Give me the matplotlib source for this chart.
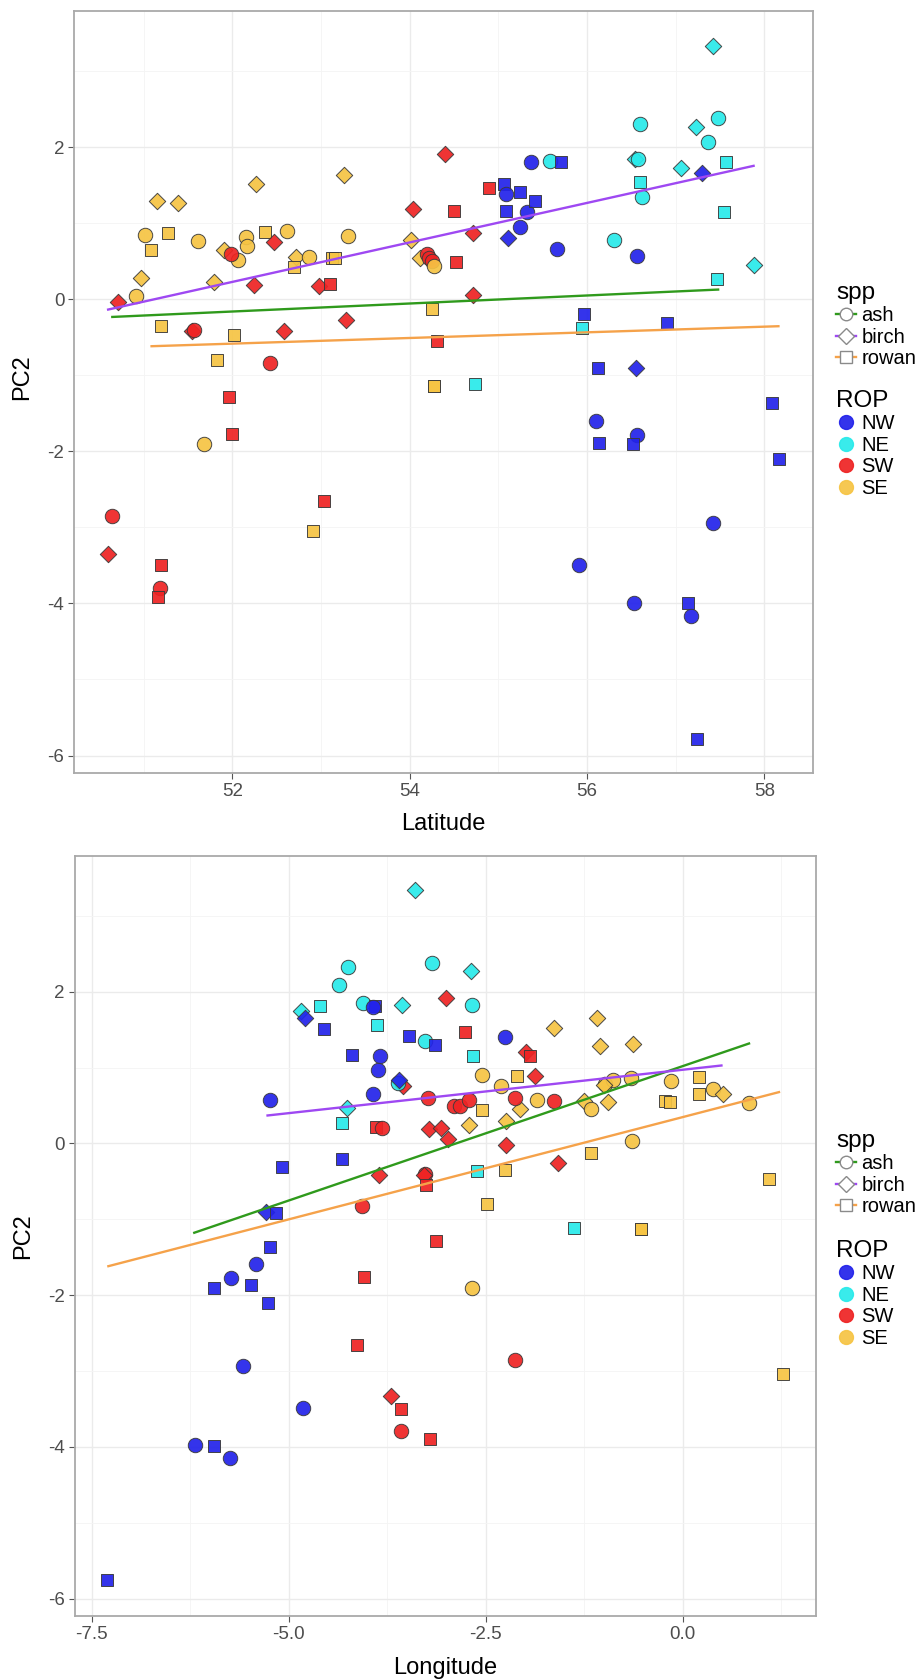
import matplotlib
matplotlib.use("Agg")
import matplotlib.pyplot as plt
from matplotlib.lines import Line2D
from matplotlib.ticker import MultipleLocator, FuncFormatter

plt.rcParams['font.family'] = ['Liberation Sans', 'DejaVu Sans']
plt.rcParams['axes.unicode_minus'] = False

# ---------------- data: PC2 vs Latitude ----------------
lat_x = [50.91, 50.97, 51.02, 51.08, 51.15, 51.28, 51.39, 51.20, 51.61, 51.79,
         51.83, 51.91, 52.06, 52.02, 52.16, 52.17, 52.27, 52.37, 52.62, 52.72,
         52.70, 52.86, 53.12, 53.16, 53.26, 53.31, 54.02, 54.12, 54.255, 54.27,
         54.27, 51.68, 52.91,
         50.71, 51.55, 51.57, 51.99, 51.96, 52.24, 52.47, 52.43, 52.58, 52.98,
         53.10, 53.28, 54.04, 54.20, 54.22, 54.25, 54.31, 54.40, 54.50, 54.52,
         54.71, 54.71, 54.90, 52.00, 53.03, 50.64, 50.60, 51.20, 51.19, 51.165,
         54.27,
         55.58, 56.30, 56.60, 56.54, 56.58, 56.60, 56.62, 57.23, 57.48, 57.37,
         57.06, 57.57, 57.55, 57.42, 57.885, 57.47, 55.95, 54.74,
         55.07, 55.09, 55.25, 55.09, 55.32, 55.42, 55.24, 55.11, 55.37, 55.66,
         55.71, 56.57, 57.30, 55.97, 56.90, 56.13, 56.55, 58.09, 56.10, 56.14,
         56.56, 56.52, 58.17, 57.42, 55.91, 56.53, 57.135, 57.17, 57.24]
lat_pc2 = [0.04, 0.285, 0.85, 0.645, 1.29, 0.87, 1.27, -0.355, 0.76, 0.23,
           -0.80, 0.645, 0.52, -0.47, 0.82, 0.70, 1.51, 0.885, 0.895, 0.557,
           0.425, 0.557, 0.543, 0.543, 1.64, 0.83, 0.785, 0.543, -0.123, -1.14,
           -1.14, -1.90, -3.05,
           -0.035, -0.417, -0.40, 0.59, -1.285, 0.184, 0.754, -0.838, -0.42, 0.175,
           0.206, -0.267, 1.19, 0.60, 0.54, 0.50, -0.548, 1.908, 1.158, 0.496,
           0.877, 0.057, 1.456, -1.77, -2.65, -2.85, -3.35, -3.50, -3.80, -3.92,
           0.44,
           1.816, 0.785, 2.31, 1.838, 1.85, 1.544, 1.338, 2.27, 2.377, 2.07,
           1.73, 1.80, 1.15, 3.33, 0.447, 0.27, -0.377, -1.12,
           1.52, 1.39, 1.41, 1.16, 1.15, 1.29, 0.95, 0.81, 1.80, 0.654,
           1.806, 0.566, 1.66, -0.20, -0.31, -0.91, -0.91, -1.37, -1.605, -1.886,
           -1.78, -1.90, -2.105, -2.94, -3.50, -3.99, -4.00, -4.17, -5.78]
lat_spp = ['ash', 'birch', 'ash', 'rowan', 'birch', 'rowan', 'birch', 'rowan', 'ash', 'birch',
           'rowan', 'birch', 'ash', 'rowan', 'ash', 'ash', 'birch', 'rowan', 'ash', 'birch',
           'rowan', 'ash', 'rowan', 'rowan', 'birch', 'ash', 'birch', 'birch', 'rowan', 'rowan',
           'rowan', 'ash', 'rowan',
           'birch', 'birch', 'ash', 'ash', 'rowan', 'birch', 'birch', 'ash', 'birch', 'birch',
           'rowan', 'birch', 'birch', 'ash', 'ash', 'ash', 'rowan', 'birch', 'rowan', 'rowan',
           'birch', 'birch', 'rowan', 'rowan', 'rowan', 'ash', 'birch', 'rowan', 'ash', 'rowan',
           'ash',
           'ash', 'ash', 'ash', 'birch', 'ash', 'rowan', 'ash', 'birch', 'ash', 'ash',
           'birch', 'rowan', 'rowan', 'birch', 'birch', 'rowan', 'rowan', 'rowan',
           'rowan', 'ash', 'rowan', 'rowan', 'ash', 'rowan', 'ash', 'birch', 'ash', 'ash',
           'rowan', 'ash', 'birch', 'rowan', 'rowan', 'rowan', 'birch', 'rowan', 'ash', 'rowan',
           'ash', 'rowan', 'rowan', 'ash', 'ash', 'ash', 'rowan', 'ash', 'rowan']
lat_rop = ['SE'] * 33 + ['SW'] * 30 + ['SE'] + ['NE'] * 18 + ['NW'] * 29

# ---------------- data: PC2 vs Longitude ----------------
lon_x = [-2.545, -2.31, -2.545, -2.715, -2.25, -2.26, -2.49, -1.635, -1.09, -1.046,
         -0.63, -2.11, -0.99, -0.89, -0.66, -1.0, -0.144, 0.203, -1.85, -2.07,
         -1.26, -1.16, -0.95, -0.23, -0.165, 0.207, 0.377, 0.504, 0.84, -0.65,
         -1.16, -0.525, -0.525, 1.097, -2.67, 1.27,
         -3.00, -2.76, -1.99, -1.94, -1.88, -3.545, -3.235, -2.90, -2.83, -2.71,
         -2.13, -1.64, -3.89, -3.815, -3.215, -3.07, -2.98, -2.25, -1.59, -3.86,
         -3.27, -3.29, -3.26, -4.075, -3.13, -4.05, -4.13, -2.13, -3.70, -3.58,
         -3.58, -3.21,
         -3.40, -4.25, -4.36, -3.185, -2.69, -3.57, -2.68, -4.06, -4.845, -4.61,
         -3.885, -3.27, -2.66, -4.265, -4.33, -2.61, -1.38, -3.62,
         -3.91, -3.93, -4.80, -4.56, -3.47, -3.15, -2.26, -4.20, -3.84, -3.87,
         -3.60, -3.935, -5.24, -4.33, -5.085, -5.29, -5.16, -5.24, -5.42, -5.73,
         -5.955, -5.485, -5.26, -5.58, -4.82, -6.19, -5.955, -5.745, -7.31]
lon_pc2 = [0.90, 0.755, 0.44, 0.237, 0.295, -0.35, -0.795, 1.525, 1.65, 1.283,
           1.305, 0.896, 0.79, 0.84, 0.857, 0.77, 0.83, 0.875, 0.57, 0.448,
           0.56, 0.448, 0.545, 0.56, 0.55, 0.646, 0.712, 0.646, 0.536, 0.03,
           -0.123, -1.125, -1.125, -0.466, -1.90, -3.04,
           1.92, 1.47, 1.20, 1.15, 0.887, 0.755, 0.60, 0.49, 0.50, 0.57,
           0.60, 0.56, 0.215, 0.207, 0.193, 0.207, 0.06, -0.026, -0.264, -0.417,
           -0.396, -0.42, -0.554, -0.826, -1.288, -1.76, -2.66, -2.85, -3.33, -3.50,
           -3.79, -3.90,
           3.336, 2.325, 2.083, 2.38, 2.28, 1.83, 1.82, 1.855, 1.745, 1.81,
           1.56, 1.35, 1.15, 0.47, 0.27, -0.365, -1.11, 0.80,
           1.81, 1.80, 1.657, 1.51, 1.415, 1.30, 1.40, 1.16, 1.15, 0.97,
           0.835, 0.655, 0.57, -0.20, -0.31, -0.90, -0.914, -1.367, -1.595, -1.78,
           -1.90, -1.87, -2.10, -2.93, -3.49, -3.98, -3.99, -4.15, -5.76]
lon_spp = ['ash', 'ash', 'rowan', 'birch', 'birch', 'rowan', 'rowan', 'birch', 'birch', 'birch',
           'birch', 'rowan', 'ash', 'ash', 'ash', 'birch', 'ash', 'rowan', 'ash', 'birch',
           'birch', 'ash', 'birch', 'rowan', 'rowan', 'rowan', 'ash', 'birch', 'ash', 'ash',
           'rowan', 'rowan', 'rowan', 'rowan', 'ash', 'rowan',
           'birch', 'rowan', 'birch', 'rowan', 'birch', 'birch', 'ash', 'ash', 'ash', 'ash',
           'ash', 'ash', 'rowan', 'ash', 'birch', 'birch', 'birch', 'birch', 'birch', 'birch',
           'ash', 'birch', 'rowan', 'ash', 'rowan', 'rowan', 'rowan', 'ash', 'birch', 'rowan',
           'ash', 'rowan',
           'birch', 'ash', 'ash', 'ash', 'birch', 'birch', 'ash', 'ash', 'birch', 'rowan',
           'rowan', 'ash', 'rowan', 'birch', 'rowan', 'rowan', 'rowan', 'ash',
           'rowan', 'ash', 'birch', 'rowan', 'rowan', 'rowan', 'ash', 'rowan', 'ash', 'ash',
           'birch', 'ash', 'ash', 'rowan', 'rowan', 'birch', 'rowan', 'rowan', 'ash', 'ash',
           'rowan', 'rowan', 'rowan', 'ash', 'ash', 'ash', 'rowan', 'ash', 'rowan']
lon_rop = ['SE'] * 36 + ['SW'] * 32 + ['NE'] * 18 + ['NW'] * 29

# ---------------- fitted lines (endpoints) ----------------
spp_levels = ['ash', 'birch', 'rowan']
lat_fit_x = {'ash': [50.647, 57.48], 'birch': [50.60, 57.88], 'rowan': [51.09, 58.16]}
lat_fit_y = {'ash': [-0.233, 0.127], 'birch': [-0.136, 1.754], 'rowan': [-0.618, -0.355]}
lon_fit_x = {'ash': [-6.20, 0.84], 'birch': [-5.27, 0.49], 'rowan': [-7.29, 1.22]}
lon_fit_y = {'ash': [-1.177, 1.318], 'birch': [0.369, 1.028], 'rowan': [-1.618, 0.677]}

rop_levels = ['NW', 'NE', 'SW', 'SE']

# ---------------- styles ----------------
rop_colors = {'NW': '#2222EA', 'NE': '#28EAEA', 'SW': '#EE2323', 'SE': '#F6C443'}
spp_marker = {'ash': 'o', 'birch': 'D', 'rowan': 's'}
spp_size = {'ash': 108, 'birch': 70, 'rowan': 80}
spp_legend_ms = {'ash': 9, 'birch': 8, 'rowan': 8}
line_colors = {'ash': '#2F9A1C', 'birch': '#9E48F2', 'rowan': '#F5A24A'}

W, H = 916, 1680
fig = plt.figure(figsize=(W / 100, H / 100), dpi=100)


def panel(rect, xs, ys, spp, rop, fitx, fity, xlim, xmaj, xmin_, xfmt, xlabel,
          ylab_y, xlab_y):
    ax = fig.add_axes(rect)
    ax.set_xlim(*xlim)
    ax.set_ylim(-6.23, 3.79)
    ax.xaxis.set_major_locator(MultipleLocator(xmaj))
    ax.xaxis.set_minor_locator(MultipleLocator(xmin_))
    ax.yaxis.set_major_locator(MultipleLocator(2))
    ax.yaxis.set_minor_locator(MultipleLocator(1))
    ax.grid(which='major', color='#EBEBEB', lw=1.0, zorder=0)
    ax.grid(which='minor', color='#F4F4F4', lw=0.6, zorder=0)
    ax.set_axisbelow(True)
    for sp in ax.spines.values():
        sp.set_color('#A9A9A9')
        sp.set_linewidth(1.3)
    ax.tick_params(which='major', length=4, width=0.8, color='#555555',
                   labelsize=13.5, labelcolor='#4D4D4D', pad=3)
    ax.tick_params(which='minor', length=0)
    ax.xaxis.set_major_formatter(xfmt)
    for x, y, s, r in zip(xs, ys, spp, rop):
        ax.scatter([x], [y], marker=spp_marker[s], s=spp_size[s],
                   facecolor=rop_colors[r], edgecolor='#3A3A3A', linewidth=0.7,
                   alpha=0.92, zorder=3)
    for s in spp_levels:
        ax.plot(fitx[s], fity[s], color=line_colors[s], lw=1.7, zorder=4)
    ax.set_xlabel(xlabel, fontsize=17)
    ax.set_ylabel('PC2', fontsize=17)
    ax.xaxis.set_label_coords(0.5, xlab_y)
    ax.yaxis.set_label_coords(-0.055, ylab_y)
    return ax


fmt_int = FuncFormatter(lambda v, p: f'{v:.0f}')
fmt_one = FuncFormatter(lambda v, p: f'{v:.1f}')

ax1 = panel([74 / W, 1 - 773 / H, 739 / W, 762 / H], lat_x, lat_pc2, lat_spp, lat_rop,
            lat_fit_x, lat_fit_y, (50.215, 58.55), 2, 1, fmt_int, 'Latitude', 0.52, -0.052)
ax2 = panel([74.5 / W, 1 - 1616 / H, 741.5 / W, 760 / H], lon_x, lon_pc2, lon_spp, lon_rop,
            lon_fit_x, lon_fit_y, (-7.72, 1.69), 2.5, 1.25, fmt_one, 'Longitude', 0.50, -0.054)


def legends(top_px, gap_px):
    spp_handles = [Line2D([], [], color=line_colors[s], lw=1.7, marker=spp_marker[s],
                          mfc='white', mec='#8A8A8A', ms=spp_legend_ms[s])
                   for s in spp_levels]
    fig.legend(spp_handles, spp_levels, title='spp', loc='upper left',
               bbox_to_anchor=(826 / W, 1 - top_px / H), frameon=False,
               fontsize=14.5, title_fontsize=17.5, handlelength=1.0, handletextpad=0.25,
               labelspacing=0.12, borderpad=0, alignment='left')
    rop_handles = [Line2D([], [], ls='none', marker='o', ms=10, mfc=rop_colors[r],
                          mec=rop_colors[r], alpha=0.92) for r in rop_levels]
    fig.legend(rop_handles, rop_levels, title='ROP', loc='upper left',
               bbox_to_anchor=(826 / W, 1 - (top_px + gap_px) / H), frameon=False,
               fontsize=14.5, title_fontsize=17.5, handlelength=1.0, handletextpad=0.25,
               labelspacing=0.12, borderpad=0, alignment='left')


legends(272, 108)
legends(1120, 110)

fig.savefig('out.png', dpi=100)
